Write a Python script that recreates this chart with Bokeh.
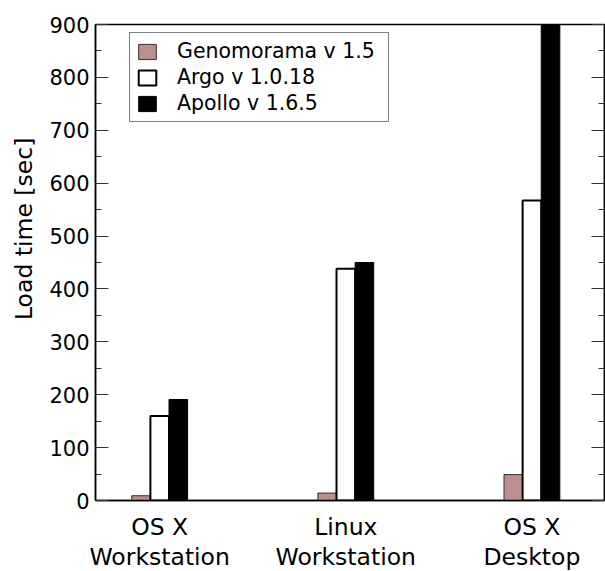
from bokeh.plotting import figure
from bokeh.models import (LinearAxis, SingleIntervalTicker, FixedTicker, Range1d, Legend,
                          LegendItem, ColumnDataSource, CustomJSTickFormatter)
from bokeh.embed import file_html
from bokeh.resources import INLINE

# ---- data ----
platforms = ["OS X\nWorkstation", "Linux\nWorkstation", "OS X\nDesktop"]
series = ["Genomorama v 1.5", "Argo v 1.0.18", "Apollo v 1.6.5"]
genomorama = [9, 14, 49]
argo = [160, 438, 567]
apollo = [191, 450, 900]
y_ticks_major = 100
y_title = "Load time [sec]"

FONT = "DejaVu Sans"
positions = [1, 2, 3]
bar_w = 0.1

p = figure(frame_width=509, frame_height=476,
           min_border_left=95, min_border_right=1, min_border_top=24, min_border_bottom=71,
           x_range=Range1d(0.655, 3.39), y_range=Range1d(0, 900),
           output_backend="svg", toolbar_location=None,
           background_fill_color="white", border_fill_color="white")
p.grid.visible = False
p.outline_line_color = "black"
p.outline_line_width = 1.5

src_g = ColumnDataSource(dict(x=[x - bar_w for x in positions], top=genomorama))
src_a = ColumnDataSource(dict(x=positions, top=argo))
src_p = ColumnDataSource(dict(x=[x + bar_w for x in positions], top=apollo))

r_g = p.vbar(x="x", top="top", bottom=0, width=bar_w, source=src_g,
             fill_color="#BC8F8F", line_color="#3a2a2a", line_width=1)
r_a = p.vbar(x="x", top="top", bottom=0, width=bar_w, source=src_a,
             fill_color="white", line_color="black", line_width=2)
r_p = p.vbar(x="x", top="top", bottom=0, width=bar_w, source=src_p,
             fill_color="black", line_color="black", line_width=1)

# y axis (left)
ya = p.yaxis[0]
ya.ticker = SingleIntervalTicker(interval=y_ticks_major, num_minor_ticks=2)
ya.major_tick_in = 13
ya.major_tick_out = 0
ya.minor_tick_in = 6
ya.minor_tick_out = 0
ya.major_tick_line_color = "#333333"
ya.minor_tick_line_color = "#333333"
ya.axis_line_width = 1.5
ya.major_label_text_font = FONT
ya.major_label_text_font_size = "21px"
ya.major_label_text_color = "black"
ya.major_label_standoff = 6
# leading no-break spaces shift the visible title upward, as in the reference
ya.axis_label = "\u00a0" * 9 + y_title
ya.axis_label_text_font = FONT
ya.axis_label_text_font_size = "23.5px"
ya.axis_label_text_font_style = "normal"
ya.axis_label_text_color = "black"
ya.axis_label_standoff = 8

# right axis (ticks only)
ra = LinearAxis(ticker=SingleIntervalTicker(interval=y_ticks_major, num_minor_ticks=2),
                formatter=CustomJSTickFormatter(code="return ''"))
ra.major_tick_in = 13
ra.major_tick_out = 0
ra.minor_tick_in = 6
ra.minor_tick_out = 0
ra.major_tick_line_color = "#333333"
ra.minor_tick_line_color = "#333333"
ra.axis_line_width = 1.5
ra.major_label_standoff = 0
p.add_layout(ra, "right")

# x axis
xa = p.xaxis[0]
xa.ticker = FixedTicker(ticks=positions)
xa.major_label_overrides = {pos: lab for pos, lab in zip(positions, platforms)}
xa.major_tick_in = 0
xa.major_tick_out = 0
xa.minor_tick_in = 0
xa.minor_tick_out = 0
xa.axis_line_width = 1.5
xa.major_label_text_font = FONT
xa.major_label_text_font_size = "23.5px"
xa.major_label_text_color = "black"
xa.major_label_text_line_height = 1.1
xa.major_label_standoff = 12

legend = Legend(items=[LegendItem(label=series[0], renderers=[r_g]),
                       LegendItem(label=series[1], renderers=[r_a]),
                       LegendItem(label=series[2], renderers=[r_p])],
                location=(34, 378))
legend.label_text_font = FONT
legend.label_text_font_size = "20.5px"
legend.label_text_color = "black"
legend.glyph_width = 22
legend.glyph_height = 19
legend.label_height = 23
legend.label_width = 205
legend.label_standoff = 19
legend.padding = 6
legend.spacing = 2
legend.margin = 0
legend.border_line_color = "black"
legend.border_line_width = 1
legend.background_fill_alpha = 1
p.add_layout(legend, "center")

open("out.html", "w").write(file_html(p, INLINE))
